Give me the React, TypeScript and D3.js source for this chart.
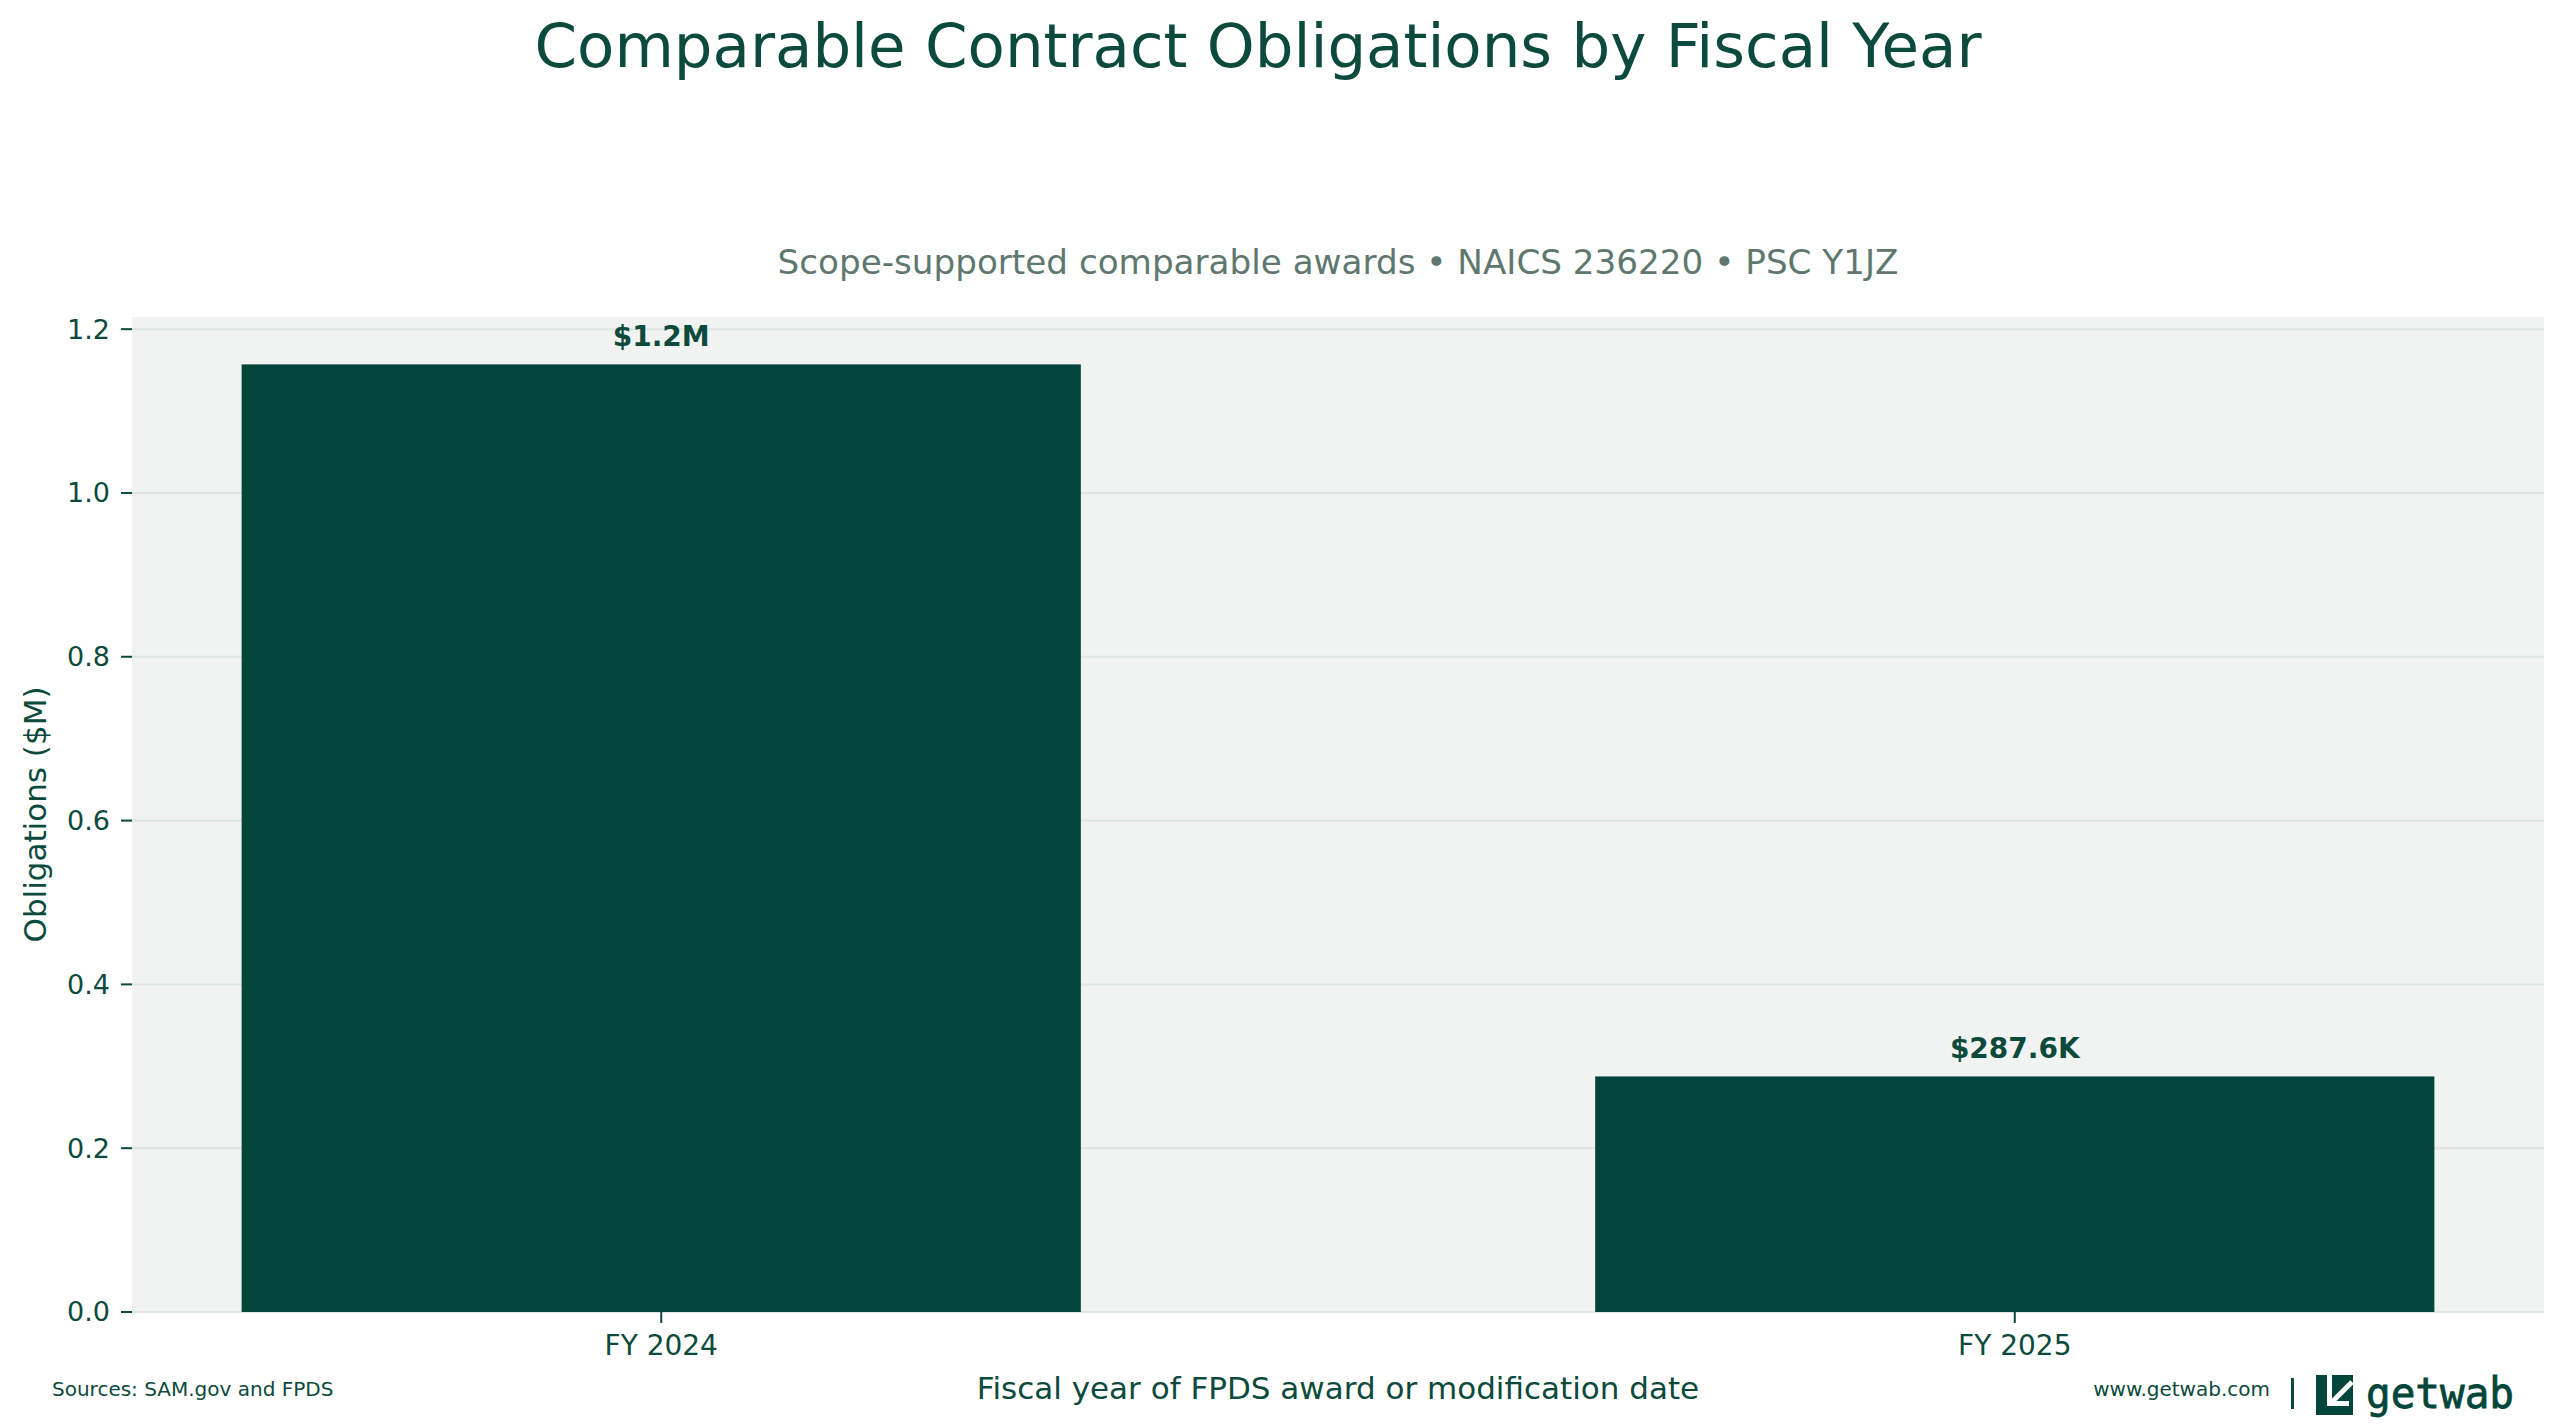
import React from "react";
import * as d3 from "d3";

// Chart data
const fiscalYears: string[] = ["FY 2024", "FY 2025"];
const obligationsM: number[] = [1.157, 0.2876];
const valueLabels: string[] = ["$1.2M", "$287.6K"];
const yTicks: number[] = [0, 0.2, 0.4, 0.6, 0.8, 1.0, 1.2];

const W = 2566;
const H = 1427;
const plot = { left: 132, right: 2544, top: 317, bottom: 1312 };

const INK = "#0B4A3C";
const BAR = "#02453A";
const FONT = "'DejaVu Sans', Verdana, sans-serif";

export default function App() {
  const x = d3
    .scaleBand<string>()
    .domain(fiscalYears)
    .range([plot.left, plot.right])
    .paddingInner(0.38)
    .paddingOuter(0.081);

  const yMax = (d3.max(obligationsM) ?? 1) * 1.05;
  const y = d3.scaleLinear().domain([0, yMax]).range([plot.bottom, plot.top]);

  const plotCx = (plot.left + plot.right) / 2;

  return (
    <svg
      width={W}
      height={H}
      style={{ position: "absolute", left: 0, top: 0, background: "#fff" }}
      fontFamily={FONT}
    >
      <rect x={0} y={0} width={W} height={H} fill="#ffffff" />

      {/* Title and subtitle */}
      <text x={1258} y={67} textAnchor="middle" fontSize={61} fill={INK}>
        Comparable Contract Obligations by Fiscal Year
      </text>
      <text x={plotCx} y={274} textAnchor="middle" fontSize={34.2} fill="#5F786F">
        Scope-supported comparable awards • NAICS 236220 • PSC Y1JZ
      </text>

      {/* Plot background */}
      <rect
        x={plot.left}
        y={plot.top}
        width={plot.right - plot.left}
        height={plot.bottom - plot.top}
        fill="#F1F3F2"
      />

      {/* Horizontal gridlines */}
      {yTicks.map((t) => (
        <line
          key={"g" + t}
          x1={plot.left}
          x2={plot.right}
          y1={y(t)}
          y2={y(t)}
          stroke="#DCE6E2"
          strokeWidth={2}
        />
      ))}

      {/* Bars */}
      {fiscalYears.map((fy, i) => (
        <rect
          key={fy}
          x={x(fy)}
          y={y(obligationsM[i])}
          width={x.bandwidth()}
          height={y(0) - y(obligationsM[i])}
          fill={BAR}
        />
      ))}

      {/* Value labels */}
      {fiscalYears.map((fy, i) => (
        <text
          key={"v" + fy}
          x={(x(fy) ?? 0) + x.bandwidth() / 2}
          y={y(obligationsM[i]) - 18}
          textAnchor="middle"
          fontSize={28}
          fontWeight="bold"
          fill={INK}
        >
          {valueLabels[i]}
        </text>
      ))}

      {/* Y axis ticks */}
      {yTicks.map((t) => (
        <g key={"yt" + t}>
          <line x1={plot.left - 11} x2={plot.left} y1={y(t)} y2={y(t)} stroke={INK} strokeWidth={2} />
          <text
            x={plot.left - 22}
            y={y(t)}
            dy="0.35em"
            textAnchor="end"
            fontSize={27}
            fill={INK}
          >
            {t.toFixed(1)}
          </text>
        </g>
      ))}

      {/* X axis ticks */}
      {fiscalYears.map((fy) => {
        const cx = (x(fy) ?? 0) + x.bandwidth() / 2;
        return (
          <g key={"xt" + fy}>
            <line x1={cx} x2={cx} y1={plot.bottom} y2={plot.bottom + 11} stroke={INK} strokeWidth={2} />
            <text x={cx} y={1355} textAnchor="middle" fontSize={28} fill={INK}>
              {fy}
            </text>
          </g>
        );
      })}

      {/* Axis titles */}
      <text
        transform={`translate(46, ${(plot.top + plot.bottom) / 2}) rotate(-90)`}
        textAnchor="middle"
        fontSize={31}
        fill={INK}
      >
        Obligations ($M)
      </text>
      <text x={plotCx} y={1399} textAnchor="middle" fontSize={31} fill={INK}>
        Fiscal year of FPDS award or modification date
      </text>

      {/* Footer */}
      <text x={52} y={1396} fontSize={20} fill={INK}>
        Sources: SAM.gov and FPDS
      </text>
      <text x={2270} y={1396} textAnchor="end" fontSize={20} fill={INK}>
        www.getwab.com
      </text>
      <rect x={2291} y={1378} width={3} height={31} fill={INK} />

      {/* Logo mark: white down-left arrow cut into a dark square */}
      <g transform="translate(2316, 1375)">
        <rect x={0} y={0} width={37} height={40} fill={BAR} />
        <path d="M13.5,0 V28.5 H33" fill="none" stroke="#ffffff" strokeWidth={5} />
        <path d="M36,7 L15,28" fill="none" stroke="#ffffff" strokeWidth={5} />
      </g>
      <text
        x={2366}
        y={1408}
        fontSize={42}
        fontFamily="'DejaVu Sans Mono', monospace"
        fill={BAR}
        stroke={BAR}
        strokeWidth={0.8}
        textLength={148}
        lengthAdjust="spacingAndGlyphs"
      >
        getwab
      </text>
    </svg>
  );
}
